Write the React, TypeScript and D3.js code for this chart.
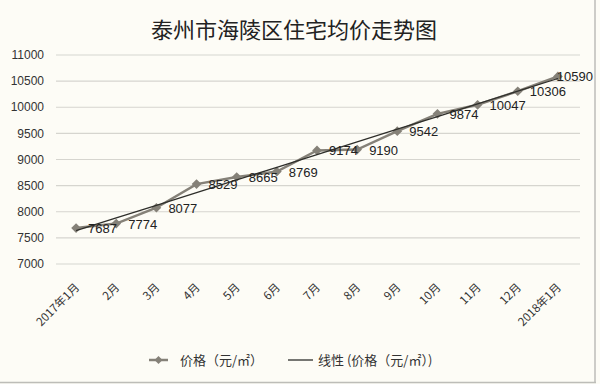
import React from "react";
import * as d3 from "d3";

const categories = ["2017年1月", "2月", "3月", "4月", "5月", "6月", "7月", "8月", "9月", "10月", "11月", "12月", "2018年1月"];
const prices = [7687, 7774, 8077, 8529, 8665, 8769, 9174, 9190, 9542, 9874, 10047, 10306, 10590];
const yTicks = [7000, 7500, 8000, 8500, 9000, 9500, 10000, 10500, 11000];
const title = "泰州市海陵区住宅均价走势图";
const legendSeries = "价格（元/㎡）";
const legendTrend = "线性 (价格（元/㎡）)";

export default function App() {
  const W = 600, H = 384;
  const x = d3.scalePoint<string>().domain(categories).range([56, 578]).padding(0.5);
  const y = d3.scaleLinear().domain([7000, 11000]).range([264, 55]);

  // linear regression
  const xs = prices.map((_, i) => i + 1);
  const mx = d3.mean(xs)!;
  const my = d3.mean(prices)!;
  const slope = d3.sum(xs.map((v, i) => (v - mx) * (prices[i] - my))) / d3.sum(xs.map(v => (v - mx) ** 2));
  const intercept = my - slope * mx;
  const trend = xs.map(v => intercept + slope * v);

  const line = d3.line<number>().x((_, i) => x(categories[i])!).y(d => y(d));
  const diamond = d3.symbol().type(d3.symbolDiamond2).size(60)();

  const serColor = "#858178";
  const numFont = "'Liberation Sans', Arial, sans-serif";
  const cjkFont = "'Noto Sans CJK SC', sans-serif";
  const last = prices.length - 1;

  return (
    <svg width={W} height={H} style={{ position: "fixed", left: 0, top: 0 }} xmlns="http://www.w3.org/2000/svg">
      <rect x={0} y={0} width={W} height={H} fill="#fdfcf6" />
      <line x1={595} x2={595} y1={0} y2={383} stroke="#bdbdb8" strokeWidth={1.5} />
      <line x1={0} x2={596} y1={382.5} y2={382.5} stroke="#bdbdb8" strokeWidth={1.5} />
      <text x={294} y={38} textAnchor="middle" fontFamily={cjkFont} fontSize={22} fill="#222">{title}</text>
      {yTicks.map(t => (
        <g key={t}>
          <line x1={56} x2={580} y1={y(t)} y2={y(t)} stroke="#d6d5cf" strokeWidth={1.2} />
          <text x={44} y={y(t)} dy="0.35em" textAnchor="end" fontFamily={numFont} fontSize={12} fill="#333">{t}</text>
        </g>
      ))}
      {categories.map(c => (
        <text key={c} transform={`translate(${x(c)! + 4},${288}) rotate(-45)`} textAnchor="end" fontFamily={cjkFont} fontSize={11.5} fill="#333">{c}</text>
      ))}
      <path d={line(prices)!} fill="none" stroke={serColor} strokeWidth={2.5} />
      {prices.map((v, i) => (
        <path key={i} d={diamond!} transform={`translate(${x(categories[i])},${y(v)})`} fill={serColor} />
      ))}
      <path d={line(trend)!} fill="none" stroke="#2e2e2a" strokeWidth={1.3} />
      {prices.map((v, i) => (
        i === last ? (
          <text key={i} x={593} y={y(v) + 4.5} textAnchor="end" fontFamily={numFont} fontSize={13} fill="#222">{v}</text>
        ) : (
          <text key={i} x={x(categories[i])! + 12} y={y(v) + 5} fontFamily={numFont} fontSize={13} fill="#222">{v}</text>
        )
      ))}
      <g>
        <line x1={149} x2={168} y1={360} y2={360} stroke={serColor} strokeWidth={2.5} />
        <path d={d3.symbol().type(d3.symbolDiamond2).size(40)()!} transform="translate(158.5,360)" fill={serColor} />
        <text x={180} y={360} dy="0.35em" fontFamily={cjkFont} fontSize={13} fill="#333">{legendSeries}</text>
        <line x1={288} x2={313} y1={360} y2={360} stroke="#2e2e2a" strokeWidth={1.3} />
        <text x={318} y={360} dy="0.35em" fontFamily={cjkFont} fontSize={13} fill="#333">{legendTrend}</text>
      </g>
    </svg>
  );
}
